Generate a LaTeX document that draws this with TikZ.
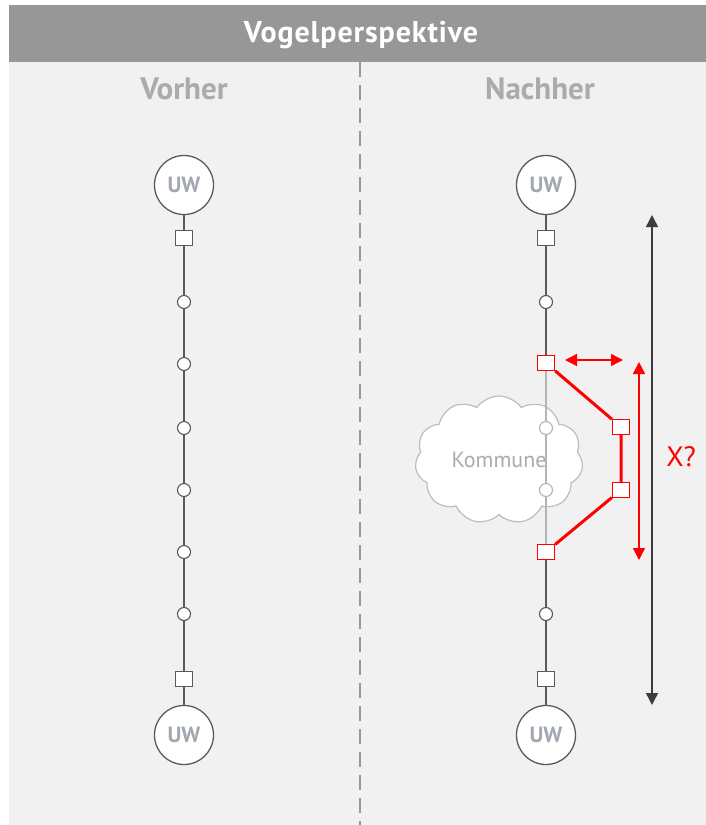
\documentclass[tikz,border=0pt]{standalone}
\usepackage{fontspec}
\setmainfont{PT Sans}
\usetikzlibrary{arrows.meta,shapes.symbols}

\definecolor{panelbg}{HTML}{F1F1F1}
\definecolor{headbar}{HTML}{979797}
\definecolor{headtext}{HTML}{ABABAB}
\definecolor{wire}{HTML}{5A5A5A}
\definecolor{oldwire}{HTML}{B4B4B4}
\definecolor{uwtext}{HTML}{A3A8B0}
\definecolor{cloudline}{HTML}{BDBDBD}
\definecolor{newroute}{HTML}{FF0000}
\definecolor{darkarrow}{HTML}{3C3C3C}

\tikzset{
  uw/.style={circle, draw=wire, line width=1.3pt, fill=white, minimum size=59pt,
    inner sep=0pt, text=uwtext, font=\fontsize{22}{22}\selectfont\bfseries},
  station/.style={rectangle, draw=wire, line width=1.3pt, fill=white,
    minimum width=17pt, minimum height=15pt, inner sep=0pt},
  redstation/.style={station, draw=newroute},
  mast/.style={circle, draw=wire, line width=1.1pt, fill=white,
    minimum size=13pt, inner sep=0pt},
  oldmast/.style={mast, draw=oldwire},
  wireline/.style={draw=wire, line width=1.3pt},
  oldline/.style={draw=oldwire, line width=1.3pt},
  redline/.style={draw=newroute, line width=3pt},
  coltitle/.style={text=headtext, font=\fontsize{31}{31}\selectfont\bfseries},
  span/.style={line width=1.4pt, {Triangle[length=12pt,width=12pt]}-{Triangle[length=12pt,width=12pt]}},
}

\begin{document}
\begin{tikzpicture}[x=1pt,y=-1pt]
\useasboundingbox (0,0) rectangle (706,825);
\fill[white] (0,0) rectangle (706,825);
\fill[panelbg] (9,5) rectangle (706,825);
\fill[headbar] (9,5) rectangle (706,62);

% header and column titles
\node[text=white, font=\fontsize{30}{30}\selectfont\bfseries\addfontfeatures{LetterSpace=3}] (title) at (361,35) {Vogelperspektive};
\node[coltitle] (before) at (184,89) {Vorher};
\node[coltitle] (after) at (540,89) {Nachher};

% divider
\coordinate (divtop) at (360,62);
\coordinate (divbot) at (360,825);
\draw[headbar, line width=2pt, dash pattern=on 15pt off 8pt] (divtop) -- (divbot);

% ---- left: existing line ----
\node[uw] (lu1) at (184,185) {UW};
\node[station] (ls1) at (184,238) {};
\node[mast] (lm1) at (184,302) {};
\node[mast] (lm2) at (184,364) {};
\node[mast] (lm3) at (184,428) {};
\node[mast] (lm4) at (184,490) {};
\node[mast] (lm5) at (184,552) {};
\node[mast] (lm6) at (184,614) {};
\node[station] (ls2) at (184,679) {};
\node[uw] (lu2) at (184,735) {UW};
\draw[wireline] (lu1) -- (ls1) -- (lm1) -- (lm2) -- (lm3) -- (lm4) -- (lm5) -- (lm6) -- (ls2) -- (lu2);

% ---- right: rerouted line ----
\node[cloud, cloud puffs=11, cloud puff arc=110, aspect=1.3, draw=cloudline, line width=1.2pt,
  fill=white, minimum width=168pt, minimum height=128pt, text=headtext,
  font=\fontsize{22}{22}\selectfont] (town) at (499,460) {Kommune};

\node[uw] (ru1) at (546,185) {UW};
\node[station] (rs1) at (546,238) {};
\node[mast] (rm1) at (546,302) {};
\node[redstation] (ra) at (546,363) {};
\node[oldmast] (rm2) at (546,428) {};
\node[oldmast] (rm3) at (546,490) {};
\node[redstation] (rd) at (546,552) {};
\node[mast] (rm4) at (546,614) {};
\node[station] (rs2) at (546,679) {};
\node[uw] (ru2) at (546,735) {UW};
\node[redstation] (rb) at (621,427) {};
\node[redstation] (rc) at (621,490) {};

\draw[wireline] (ru1) -- (rs1) -- (rm1) -- (ra);
\draw[oldline] (ra) -- (rm2) -- (rm3) -- (rd);
\draw[wireline] (rd) -- (rm4) -- (rs2) -- (ru2);
\draw[redline] (ra) -- (rb) -- (rc) -- (rd);

% dimension arrows
\coordinate (offA) at (565,360);
\coordinate (offB) at (623,360);
\draw[span, newroute] (offA) -- (offB);
\coordinate (lenA) at (639,362);
\coordinate (lenB) at (639,560);
\draw[span, newroute] (lenA) -- (lenB);
\node[text=newroute, font=\fontsize{28}{28}\selectfont] (xq) at (681,457) {X?};
\coordinate (totA) at (652,215);
\coordinate (totB) at (652,705);
\draw[span, darkarrow] (totA) -- (totB);
\end{tikzpicture}
\end{document}
